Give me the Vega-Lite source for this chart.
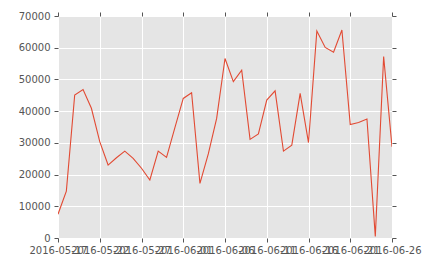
{
  "$schema": "https://vega.github.io/schema/vega-lite/v6.json",
  "width": 334,
  "height": 222,
  "autosize": {"type": "none"},
  "padding": {"left": 58, "top": 16, "right": 39, "bottom": 28},
  "background": "white",
  "config": {
    "view": {"fill": "#E5E5E5", "stroke": null},
    "font": "DejaVu Sans",
    "axis": {
      "domain": false,
      "labelFont": "DejaVu Sans",
      "labelFontSize": 10,
      "labelColor": "#555555",
      "tickColor": "#555555",
      "tickSize": 4,
      "gridColor": "#FFFFFF",
      "gridWidth": 1,
      "gridOpacity": 1,
      "title": null
    }
  },
  "data": {
    "values": [
      {"date": "2016-05-17", "value": 7500},
      {"date": "2016-05-18", "value": 14800},
      {"date": "2016-05-19", "value": 45100},
      {"date": "2016-05-20", "value": 46800},
      {"date": "2016-05-21", "value": 40900},
      {"date": "2016-05-22", "value": 30400},
      {"date": "2016-05-23", "value": 23000},
      {"date": "2016-05-24", "value": 25300},
      {"date": "2016-05-25", "value": 27400},
      {"date": "2016-05-26", "value": 25100},
      {"date": "2016-05-27", "value": 22000},
      {"date": "2016-05-28", "value": 18300},
      {"date": "2016-05-29", "value": 27400},
      {"date": "2016-05-30", "value": 25400},
      {"date": "2016-05-31", "value": 34800},
      {"date": "2016-06-01", "value": 44000},
      {"date": "2016-06-02", "value": 45800},
      {"date": "2016-06-03", "value": 17200},
      {"date": "2016-06-04", "value": 26500},
      {"date": "2016-06-05", "value": 37700},
      {"date": "2016-06-06", "value": 56600},
      {"date": "2016-06-07", "value": 49300},
      {"date": "2016-06-08", "value": 52900},
      {"date": "2016-06-09", "value": 31100},
      {"date": "2016-06-10", "value": 32800},
      {"date": "2016-06-11", "value": 43500},
      {"date": "2016-06-12", "value": 46400},
      {"date": "2016-06-13", "value": 27400},
      {"date": "2016-06-14", "value": 29300},
      {"date": "2016-06-15", "value": 45600},
      {"date": "2016-06-16", "value": 30100},
      {"date": "2016-06-17", "value": 65300},
      {"date": "2016-06-18", "value": 60100},
      {"date": "2016-06-19", "value": 58600},
      {"date": "2016-06-20", "value": 65600},
      {"date": "2016-06-21", "value": 35800},
      {"date": "2016-06-22", "value": 36400},
      {"date": "2016-06-23", "value": 37500},
      {"date": "2016-06-24", "value": 500},
      {"date": "2016-06-25", "value": 57200},
      {"date": "2016-06-26", "value": 28800}
    ]
  },
  "resolve": {"axis": {"x": "independent", "y": "independent"}},
  "layer": [
    {
      "mark": {"type": "line", "color": "#E24A33", "strokeWidth": 1.1, "clip": true},
      "encoding": {
        "x": {
          "field": "date",
          "type": "temporal",
          "scale": {
            "type": "utc",
            "domain": [
              {"year": 2016, "month": 5, "date": 17, "utc": true},
              {"year": 2016, "month": 6, "date": 26, "utc": true}
            ],
            "nice": false
          },
          "axis": {
            "orient": "bottom",
            "labelExpr": "utcFormat(datum.value, '%Y-%m-%d')",
            "labelOverlap": false,
            "labelBound": false,
            "labelFlush": false,
            "labelPadding": 3,
            "values": [
              {"year": 2016, "month": 5, "date": 17, "utc": true},
              {"year": 2016, "month": 5, "date": 22, "utc": true},
              {"year": 2016, "month": 5, "date": 27, "utc": true},
              {"year": 2016, "month": 6, "date": 1, "utc": true},
              {"year": 2016, "month": 6, "date": 6, "utc": true},
              {"year": 2016, "month": 6, "date": 11, "utc": true},
              {"year": 2016, "month": 6, "date": 16, "utc": true},
              {"year": 2016, "month": 6, "date": 21, "utc": true},
              {"year": 2016, "month": 6, "date": 26, "utc": true}
            ]
          }
        },
        "y": {
          "field": "value",
          "type": "quantitative",
          "scale": {"domain": [0, 70000], "nice": false, "zero": true},
          "axis": {
            "orient": "left",
            "values": [0, 10000, 20000, 30000, 40000, 50000, 60000, 70000],
            "format": "d",
            "labelPadding": 4,
            "labelFlush": false
          }
        }
      }
    },
    {
      "mark": {"type": "line", "strokeOpacity": 0},
      "encoding": {
        "x": {
          "field": "date",
          "type": "temporal",
          "axis": {
            "orient": "top",
            "labels": false,
            "grid": false,
            "values": [
              {"year": 2016, "month": 5, "date": 17, "utc": true},
              {"year": 2016, "month": 5, "date": 22, "utc": true},
              {"year": 2016, "month": 5, "date": 27, "utc": true},
              {"year": 2016, "month": 6, "date": 1, "utc": true},
              {"year": 2016, "month": 6, "date": 6, "utc": true},
              {"year": 2016, "month": 6, "date": 11, "utc": true},
              {"year": 2016, "month": 6, "date": 16, "utc": true},
              {"year": 2016, "month": 6, "date": 21, "utc": true},
              {"year": 2016, "month": 6, "date": 26, "utc": true}
            ]
          }
        },
        "y": {
          "field": "value",
          "type": "quantitative",
          "axis": {
            "orient": "right",
            "labels": false,
            "grid": false,
            "values": [0, 10000, 20000, 30000, 40000, 50000, 60000, 70000]
          }
        }
      }
    }
  ]
}
